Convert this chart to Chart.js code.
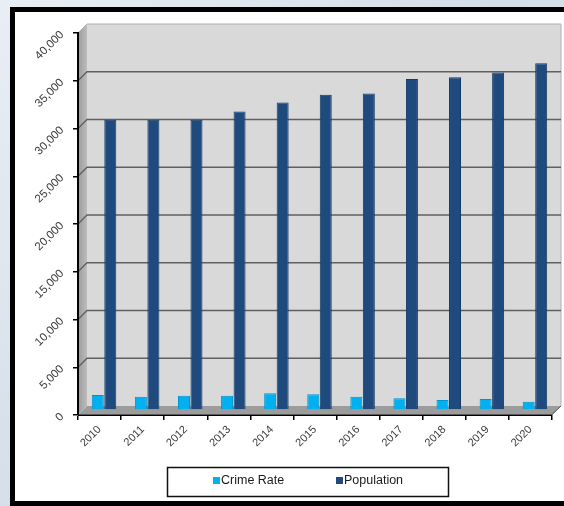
<!DOCTYPE html>
<html>
<head>
<meta charset="utf-8">
<script src="https://cdn.jsdelivr.net/npm/chart.js@4.4.1/dist/chart.umd.min.js"></script>
<style>
  html, body { margin: 0; padding: 0; background: #dfe6ee; }
  #wrap { width: 564px; height: 506px; position: relative; }
</style>
</head>
<body>
<div id="wrap"><canvas id="c" width="564" height="506"></canvas></div>
<script>
const categories = ['2010','2011','2012','2013','2014','2015','2016','2017','2018','2019','2020'];
const crimeRate  = [1570, 1400, 1500, 1500, 1750, 1640, 1400, 1220, 1050, 1150, 870];
const population = [30400, 30400, 30400, 31250, 32200, 33000, 33150, 34650, 34850, 35350, 36300];
const yTicks = [0, 5000, 10000, 15000, 20000, 25000, 30000, 35000, 40000];
const seriesNames = ['Crime Rate', 'Population'];
const seriesColors = ['#00B0F0', '#1F4A7E'];
const seriesBorders = ['#0093CC', '#163A66'];

const DX = 9, DY = -9;          // depth of the 3D box
const BAR_DX = 4.5, BAR_DY = -5; // bars sit mid-depth

const frame3d = {
  id: 'frame3d',
  beforeDraw(chart) {
    const ctx = chart.ctx;
    const W = chart.width, H = chart.height;
    ctx.save();
    const g = ctx.createLinearGradient(0, 0, W, H);
    g.addColorStop(0, '#e9eef4');
    g.addColorStop(0.5, '#d3dde8');
    g.addColorStop(1, '#e4ebf2');
    ctx.fillStyle = g;
    ctx.fillRect(0, 0, W, H);
    ctx.fillStyle = '#ffffff';
    ctx.fillRect(10, 7, W, 498);
    ctx.strokeStyle = '#000000';
    ctx.lineWidth = 5;
    ctx.beginPath();
    ctx.moveTo(W + 5, 9.5);
    ctx.lineTo(12.5, 9.5);
    ctx.lineTo(12.5, 503.5);
    ctx.lineTo(W + 5, 503.5);
    ctx.stroke();

    const a = chart.chartArea;
    const ys = chart.scales.y;
    const L = a.left, R = a.right, T = a.top, B = a.bottom;
    ctx.fillStyle = '#d9d9d9';
    ctx.fillRect(L + DX, T + DY, R - L, B - T);
    const sg = ctx.createLinearGradient(L, 0, L + DX, 0);
    sg.addColorStop(0, '#9a9a9a');
    sg.addColorStop(1, '#bdbdbd');
    ctx.fillStyle = sg;
    ctx.beginPath();
    ctx.moveTo(L, T); ctx.lineTo(L + DX, T + DY); ctx.lineTo(L + DX, B + DY); ctx.lineTo(L, B);
    ctx.closePath(); ctx.fill();
    ctx.fillStyle = '#9c9c9c';
    ctx.beginPath();
    ctx.moveTo(L, B); ctx.lineTo(L + DX, B + DY); ctx.lineTo(R + DX, B + DY); ctx.lineTo(R, B);
    ctx.closePath(); ctx.fill();
    ctx.strokeStyle = '#b0b0b0';
    ctx.lineWidth = 1;
    ctx.beginPath();
    ctx.moveTo(L, T); ctx.lineTo(L + DX, T + DY); ctx.lineTo(R + DX, T + DY); ctx.lineTo(R + DX, B + DY); ctx.lineTo(R, B);
    ctx.stroke();
    ctx.strokeStyle = '#606060';
    ctx.lineWidth = 1.3;
    yTicks.forEach(v => {
      if (v === 0 || v === 40000) return;
      const y = ys.getPixelForValue(v);
      ctx.beginPath();
      ctx.moveTo(L, y);
      ctx.lineTo(L + DX, y + DY);
      ctx.lineTo(R + DX, y + DY);
      ctx.stroke();
    });
    ctx.strokeStyle = '#5a5a5a';
    ctx.lineWidth = 1;
    ctx.beginPath();
    ctx.moveTo(L, B - 0.5); ctx.lineTo(R, B - 0.5); ctx.lineTo(R + DX, B + DY);
    ctx.stroke();
    ctx.restore();
  },
  beforeDatasetsDraw(chart) {
    chart.ctx.save();
    chart.ctx.translate(BAR_DX, BAR_DY);
  },
  afterDatasetsDraw(chart) {
    chart.ctx.restore();
  },
  afterDraw(chart) {
    const ctx = chart.ctx;
    ctx.save();
    ctx.strokeStyle = '#111111';
    ctx.lineWidth = 1.5;
    ctx.strokeRect(167.5, 467.5, 281, 29);
    ctx.font = '12.5px "Liberation Sans", Arial, sans-serif';
    ctx.textBaseline = 'middle';
    ctx.textAlign = 'left';
    const items = [{x: 213}, {x: 336}];
    items.forEach((it, i) => {
      ctx.fillStyle = seriesColors[i];
      ctx.fillRect(it.x, 477, 7, 7);
      ctx.fillStyle = '#1a1a1a';
      ctx.fillText(seriesNames[i], it.x + 8, 481);
    });
    ctx.restore();
  }
};

new Chart(document.getElementById('c'), {
  type: 'bar',
  data: {
    labels: categories,
    datasets: [
      { label: seriesNames[0], data: crimeRate, backgroundColor: seriesColors[0], borderColor: seriesBorders[0], borderWidth: 1, borderSkipped: 'bottom', categoryPercentage: 0.58, barPercentage: 0.96 },
      { label: seriesNames[1], data: population, backgroundColor: seriesColors[1], borderColor: seriesBorders[1], borderWidth: 1, borderSkipped: 'bottom', categoryPercentage: 0.58, barPercentage: 0.96 }
    ]
  },
  options: {
    responsive: false,
    animation: false,
    layout: { padding: { left: 0, right: 12, top: 33, bottom: 31 } },
    plugins: { legend: { display: false }, tooltip: { enabled: false } },
    scales: {
      x: {
        afterFit(s) { s.height = 60; },
        grid: { display: true, drawOnChartArea: false, drawTicks: true, tickLength: 5, color: '#000000', lineWidth: 1.5 },
        border: { display: true, color: '#000000', width: 1 },
        ticks: { minRotation: 45, maxRotation: 45, color: '#3a3a3a', padding: 3, font: { family: '"Liberation Sans", Arial, sans-serif', size: 11 } }
      },
      y: {
        min: 0, max: 40000,
        afterFit(s) { s.width = 78; },
        afterBuildTicks(s) { s.ticks = yTicks.map(v => ({ value: v })); },
        grid: { display: true, drawOnChartArea: false, drawTicks: true, tickLength: 5, color: '#000000', lineWidth: 1.5 },
        border: { display: true, color: '#000000', width: 2 },
        ticks: { minRotation: 45, maxRotation: 45, color: '#3a3a3a', padding: 11, font: { family: '"Liberation Sans", Arial, sans-serif', size: 11.5 },
          callback: v => Number(v).toLocaleString('en-US') }
      }
    }
  },
  plugins: [frame3d]
});
</script>
</body>
</html>
